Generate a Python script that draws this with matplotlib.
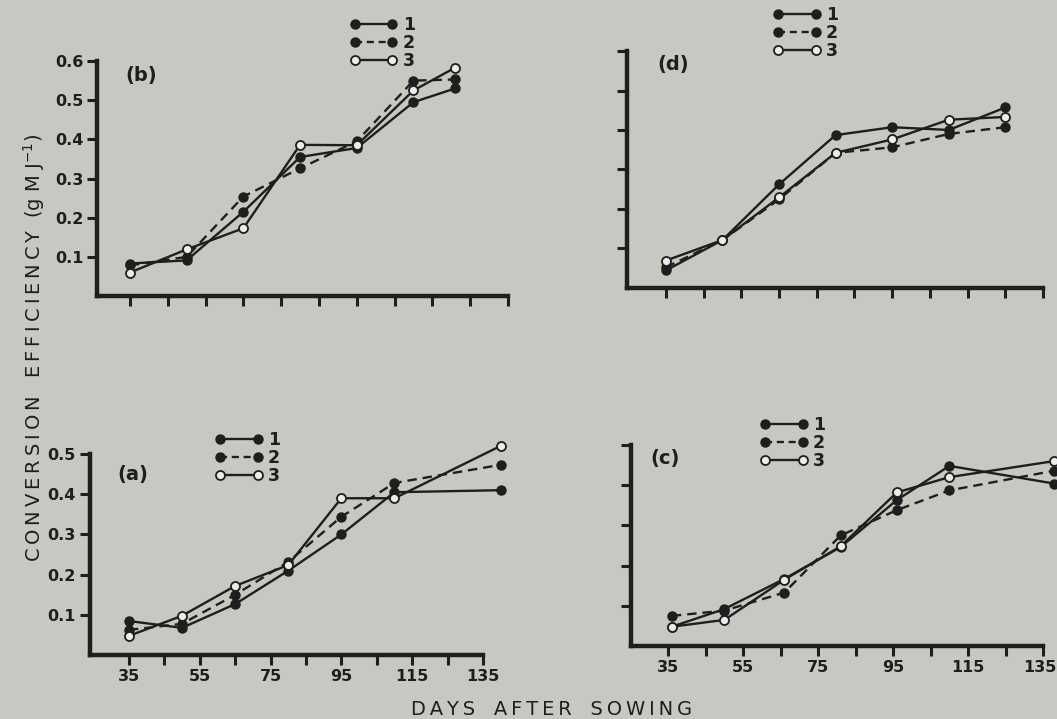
import matplotlib.pyplot as plt
from matplotlib.lines import Line2D
from matplotlib.transforms import ScaledTranslation

# days after sowing for each panel
days_a = [35, 50, 65, 80, 95, 110, 140]
days_b = [35, 50, 65, 80, 95, 110, 121]
days_c = [36, 50, 66, 81, 96, 110, 138]
days_d = [35, 50, 65, 80, 95, 110, 125]

# conversion efficiency (g MJ-1), series 1, 2, 3
a1 = [0.085, 0.068, 0.127, 0.210, 0.300, 0.405, 0.410]
a2 = [0.063, 0.078, 0.150, 0.232, 0.344, 0.428, 0.473]
a3 = [0.048, 0.098, 0.172, 0.224, 0.390, 0.390, 0.520]

b1 = [0.083, 0.091, 0.215, 0.355, 0.378, 0.495, 0.530]
b2 = [0.078, 0.100, 0.254, 0.326, 0.395, 0.550, 0.553]
b3 = [0.060, 0.119, 0.173, 0.386, 0.385, 0.525, 0.583]

c1 = [0.048, 0.092, 0.167, 0.246, 0.363, 0.448, 0.404]
c2 = [0.075, 0.088, 0.133, 0.275, 0.338, 0.387, 0.436]
c3 = [0.048, 0.065, 0.165, 0.248, 0.382, 0.420, 0.460]

d1 = [0.044, 0.121, 0.262, 0.387, 0.407, 0.400, 0.457]
d2 = [0.052, 0.121, 0.224, 0.342, 0.356, 0.390, 0.407]
d3 = [0.069, 0.121, 0.229, 0.342, 0.376, 0.426, 0.433]

xticks = [35, 45, 55, 65, 75, 85, 95, 105, 115, 125, 135]
xlabels = ["35", "", "55", "", "75", "", "95", "", "115", "", "135"]

bg = "#c8c8c3"
ink = "#1e1e1e"
font = "DejaVu Sans"

fig = plt.figure(figsize=(10.57, 7.19), dpi=100, facecolor=bg)


def spaced(s):
    return "\u2009".join(s)


def panel(rect, xlim, ylim, yticks, ylabels, show_x, days, s1, s2, s3, tag, tagpos, legpos):
    ax = fig.add_axes(rect)
    ax.set_facecolor("none")
    ax.plot(days, s1, color=ink, lw=1.7, marker="o", ms=6.5, mfc=ink, mec=ink, clip_on=False)
    ax.plot(days, s2, color=ink, lw=1.7, ls=(0, (4, 2.5)), marker="o", ms=6.5, mfc=ink, mec=ink, clip_on=False)
    ax.plot(days, s3, color=ink, lw=1.7, marker="o", ms=6.5, mfc="#ececec", mec=ink, mew=1.3, clip_on=False)
    ax.set_xlim(*xlim)
    ax.set_ylim(*ylim)
    for side in ["top", "right"]:
        ax.spines[side].set_visible(False)
    for side in ["left", "bottom"]:
        ax.spines[side].set_linewidth(3.2)
        ax.spines[side].set_color(ink)
    ax.set_xticks(xticks)
    ax.set_xticklabels(xlabels if show_x else [""] * len(xticks))
    ax.set_yticks(yticks)
    ax.set_yticklabels(ylabels)
    ax.tick_params(direction="out", length=7, width=2.2, color=ink, labelcolor=ink,
                   labelsize=11.5, pad=3)
    for t in ax.get_xticklabels() + ax.get_yticklabels():
        t.set_fontweight("bold")
        t.set_family(font)
    ax.text(tagpos[0], tagpos[1], tag, transform=ax.transAxes, fontsize=14, va="center",
            fontweight="bold", color=ink, family=font)
    handles = [
        Line2D([], [], color=ink, lw=1.7, marker="o", ms=6.5, mfc=ink, mec=ink),
        Line2D([], [], color=ink, lw=1.7, ls=(0, (3, 2)), marker="o", ms=6.5, mfc=ink, mec=ink),
        Line2D([], [], color=ink, lw=1.7, marker="o", ms=6.5, mfc="#ececec", mec=ink, mew=1.3),
    ]
    leg = fig.legend(handles, ["1", "2", "3"], loc="upper left", bbox_to_anchor=legpos,
                     frameon=False, numpoints=2, handlelength=2.75, handletextpad=0.3,
                     labelspacing=0.0, borderpad=0, borderaxespad=0,
                     prop={"family": font, "weight": "bold", "size": 12.5})
    for t in leg.get_texts():
        t.set_color(ink)
    return ax


yt6 = [0.1, 0.2, 0.3, 0.4, 0.5, 0.6]
yt5 = [0.1, 0.2, 0.3, 0.4, 0.5]

# (b) top left
panel([0.0918, 0.5883, 0.3888, 0.3268], (26.3, 135), (0, 0.6), yt6,
      ["0.1", "0.2", "0.3", "0.4", "0.5", "0.6"], False,
      days_b, b1, b2, b3, "(b)", (0.068, 0.94), (0.331, 0.978))

# (d) top right
panel([0.5932, 0.5997, 0.3936, 0.3293], (24.7, 135), (0, 0.6), yt6,
      [""] * 6, False,
      days_d, d1, d2, d3, "(d)", (0.072, 0.945), (0.7313, 0.992))

# (a) bottom left
panel([0.0851, 0.0887, 0.3718, 0.2799], (24.0, 135), (0, 0.5), yt5,
      ["0.1", "0.2", "0.3", "0.4", "0.5"], True,
      days_a, a1, a2, a3, "(a)", (0.069, 0.90), (0.2034, 0.4006))

# (c) bottom right
ax_c = panel([0.5970, 0.1015, 0.3898, 0.2796], (25.1, 135), (0, 0.5), yt5,
             [""] * 5, True,
             days_c, c1, c2, c3, "(c)", (0.046, 0.935), (0.719, 0.4214))
last = ax_c.get_xticklabels()[-1]
last.set_transform(last.get_transform() + ScaledTranslation(-3 / 100, 0, fig.dpi_scale_trans))

fig.text(0.522, 0.006, spaced("DAYS") + "   " + spaced("AFTER") + "   " + spaced("SOWING"),
         ha="center", va="baseline", fontsize=14, color=ink, family=font)
fig.text(0.032, 0.516, spaced("CONVERSION") + "   " + spaced("EFFICIENCY") + "  (g M J$^{-1}$)",
         ha="center", va="center", rotation=90, fontsize=14, color=ink, family=font)

fig.savefig("out.png", dpi=100, facecolor=bg)
